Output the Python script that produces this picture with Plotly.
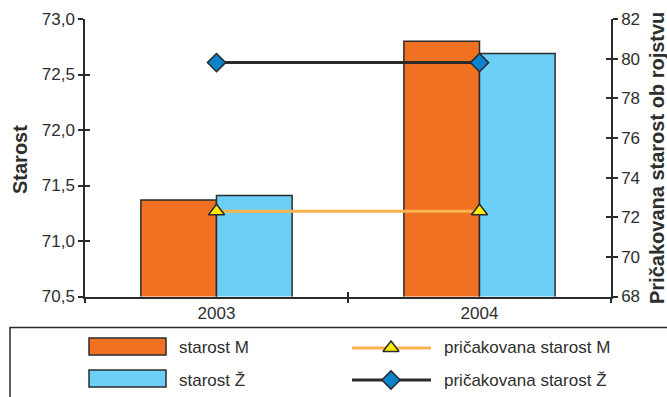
import plotly.graph_objects as go

# Data
years = ["2003", "2004"]
age_m = [71.37, 72.80]          # starost M (left axis)
age_z = [71.41, 72.69]          # starost Ž (left axis)
life_exp_m = [72.3, 72.3]       # pričakovana starost M (right axis)
life_exp_z = [79.8, 79.8]       # pričakovana starost Ž (right axis)

left_ticks = [70.5, 71.0, 71.5, 72.0, 72.5, 73.0]
right_ticks = [68, 70, 72, 74, 76, 78, 80, 82]

W, H = 667, 397
FONT = "Liberation Sans, Arial, Helvetica, sans-serif"
ORANGE = "#F07122"
BLUE = "#6BCFF6"
LINE_ORANGE = "#F9B450"
YELLOW = "#FFEA00"
DIAMOND = "#0B84CC"
DARK = "#2B2B2B"
TXT = "#2E2E2E"

TRI = dict(symbol="triangle-up", size=14, color=YELLOW, line=dict(color=DARK, width=1.5))
DIA = dict(symbol="diamond", size=14, color=DIAMOND, line=dict(color=DARK, width=1.5))


def px(x):
    return x / W


def py(y):
    return 1 - y / H


x_dom = [px(85), px(611)]
y_dom = [py(296.5), py(19)]

fig = go.Figure()

# Bars on the left axis
fig.add_trace(go.Bar(x=years, y=age_m, name="starost M", marker=dict(color=ORANGE, line=dict(color=DARK, width=1.5)),
                     xaxis="x", yaxis="y", hoverinfo="skip"))
fig.add_trace(go.Bar(x=years, y=age_z, name="starost Ž", marker=dict(color=BLUE, line=dict(color=DARK, width=1.5)),
                     xaxis="x", yaxis="y", hoverinfo="skip"))

# Lines on the right axis
fig.add_trace(go.Scatter(x=years, y=life_exp_m, name="pričakovana starost M", mode="lines+markers",
                         line=dict(color=LINE_ORANGE, width=3), marker=TRI,
                         xaxis="x", yaxis="y2", hoverinfo="skip"))
fig.add_trace(go.Scatter(x=years, y=life_exp_z, name="pričakovana starost Ž", mode="lines+markers",
                         line=dict(color=DARK, width=3), marker=DIA,
                         xaxis="x", yaxis="y2", hoverinfo="skip"))

# Invisible helpers carrying the inward half of the crossing ticks
fig.add_trace(go.Scatter(x=years, y=age_m, mode="markers", marker=dict(opacity=0), xaxis="x2", yaxis="y3",
                         hoverinfo="skip", showlegend=False))
fig.add_trace(go.Scatter(x=years, y=life_exp_m, mode="markers", marker=dict(opacity=0), xaxis="x2", yaxis="y4",
                         hoverinfo="skip", showlegend=False))

# Legend glyph markers on a full-figure pixel axis
fig.add_trace(go.Scatter(x=[391], y=[348], mode="markers", marker=TRI,
                         xaxis="x3", yaxis="y5", hoverinfo="skip", showlegend=False))
fig.add_trace(go.Scatter(x=[391], y=[380], mode="markers", marker=DIA,
                         xaxis="x3", yaxis="y5", hoverinfo="skip", showlegend=False))

tickfont = dict(family=FONT, size=17, color=TXT)

fig.update_layout(
    width=W, height=H,
    margin=dict(l=0, r=0, t=0, b=0),
    paper_bgcolor="white",
    plot_bgcolor="rgba(0,0,0,0)",
    separators=", ",
    showlegend=False,
    barmode="group",
    bargap=0.425,
    bargroupgap=0,
    xaxis=dict(domain=x_dom, anchor="y", type="category", range=[-0.5, 1.5],
               showline=True, linecolor=DARK, linewidth=1.5,
               ticks="outside", ticklen=5, tickwidth=1.5, tickcolor=DARK, tickson="boundaries",
               tickfont=tickfont, showgrid=False, zeroline=False, automargin=False),
    xaxis2=dict(domain=x_dom, anchor="y3", overlaying="x", type="category", range=[-0.5, 1.5],
                ticks="inside", ticklen=5, tickwidth=1.5, tickcolor=DARK, tickson="boundaries",
                showticklabels=False, showgrid=False, zeroline=False, automargin=False),
    yaxis=dict(domain=y_dom, anchor="x", range=[70.5, 73.0], tickvals=left_ticks, tickformat=".1f",
               showline=True, linecolor=DARK, linewidth=1.5,
               ticks="outside", ticklen=5, tickwidth=1.5, tickcolor=DARK,
               tickfont=tickfont, showgrid=False, zeroline=False, automargin=False),
    yaxis2=dict(domain=y_dom, anchor="x", overlaying="y", side="right", range=[68, 82], tickvals=right_ticks,
                showline=True, linecolor=DARK, linewidth=1.5,
                ticks="outside", ticklen=5, tickwidth=1.5, tickcolor=DARK,
                tickfont=tickfont, showgrid=False, zeroline=False, automargin=False),
    yaxis3=dict(domain=y_dom, anchor="x2", overlaying="y", range=[70.5, 73.0], tickvals=left_ticks,
                ticks="inside", ticklen=5, tickwidth=1.5, tickcolor=DARK, showticklabels=False,
                showgrid=False, zeroline=False, automargin=False),
    yaxis4=dict(domain=y_dom, anchor="x2", overlaying="y", side="right", range=[68, 82], tickvals=right_ticks,
                ticks="inside", ticklen=5, tickwidth=1.5, tickcolor=DARK, showticklabels=False,
                showgrid=False, zeroline=False, automargin=False),
    xaxis3=dict(domain=[0, 1], anchor="y5", range=[0, W], visible=False, fixedrange=True),
    yaxis5=dict(domain=[0, 1], anchor="x3", range=[H, 0], visible=False, fixedrange=True),
)

# Axis titles
fig.add_annotation(text="Starost", x=px(20), y=py(160), xref="paper", yref="paper", textangle=-90,
                   showarrow=False, xanchor="center", yanchor="middle",
                   font=dict(family=FONT, size=20, color=TXT, weight="bold"))
fig.add_annotation(text="Pričakovana starost ob rojstvu", x=px(657), y=py(158), xref="paper", yref="paper",
                   textangle=-90, showarrow=False, xanchor="center", yanchor="middle",
                   font=dict(family=FONT, size=20, color=TXT, weight="bold"))

# Legend frame, swatches and labels
fig.add_shape(type="rect", xref="paper", yref="paper", x0=px(10), x1=px(680), y0=py(410), y1=py(327.5),
              line=dict(color=DARK, width=1.5), fillcolor="rgba(0,0,0,0)")
for yc, color in [(346.5, ORANGE), (378.5, BLUE)]:
    fig.add_shape(type="rect", xref="paper", yref="paper", x0=px(89), x1=px(166), y0=py(yc + 8.5), y1=py(yc - 8.5),
                  line=dict(color=DARK, width=1.5), fillcolor=color)
fig.add_shape(type="line", xref="paper", yref="paper", x0=px(352), x1=px(431), y0=py(348), y1=py(348),
              line=dict(color=LINE_ORANGE, width=3), layer="below")
fig.add_shape(type="line", xref="paper", yref="paper", x0=px(352), x1=px(431), y0=py(380), y1=py(380),
              line=dict(color=DARK, width=3), layer="below")

legend_labels = [("starost M", 177, 347), ("starost Ž", 177, 380),
                 ("pričakovana starost M", 442, 347), ("pričakovana starost Ž", 442, 380)]
for text, lx, ly in legend_labels:
    fig.add_annotation(text=text, x=px(lx), y=py(ly), xref="paper", yref="paper", showarrow=False,
                       xanchor="left", yanchor="middle", font=dict(family=FONT, size=17, color=TXT))

fig.write_html("out.html")
